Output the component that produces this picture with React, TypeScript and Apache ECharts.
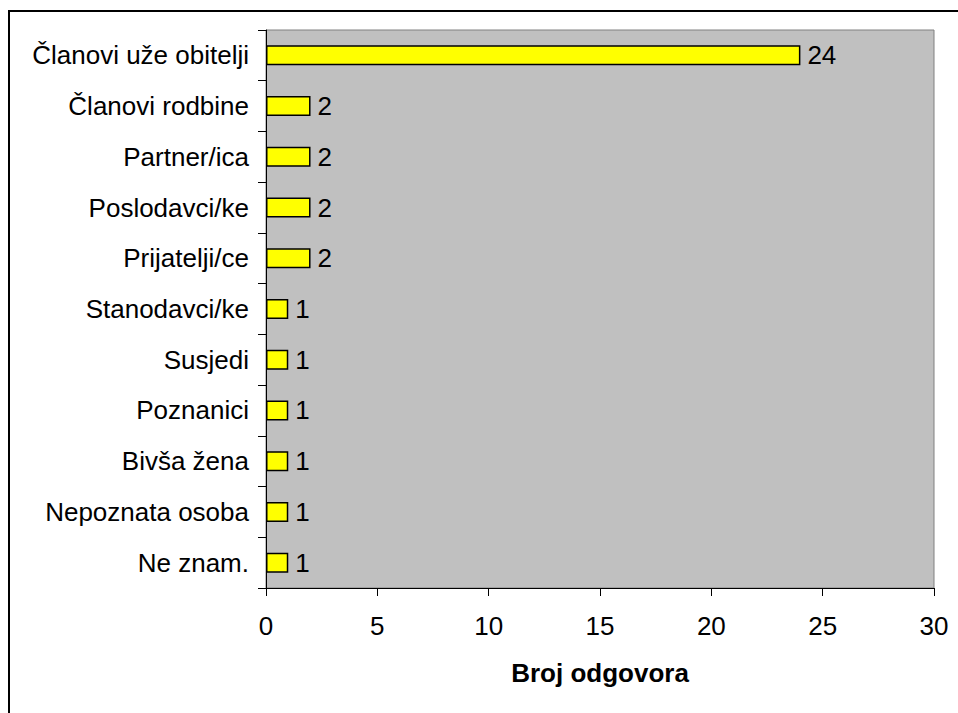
import React, { useEffect, useRef } from "react";
import * as echarts from "echarts";

const categories = [
  "Članovi uže obitelji",
  "Članovi rodbine",
  "Partner/ica",
  "Poslodavci/ke",
  "Prijatelji/ce",
  "Stanodavci/ke",
  "Susjedi",
  "Poznanici",
  "Bivša žena",
  "Nepoznata osoba",
  "Ne znam.",
];
const values = [24, 2, 2, 2, 2, 1, 1, 1, 1, 1, 1];
const axisTitle = "Broj odgovora";

const FONT = "'Liberation Sans', Arial, sans-serif";

export default function App() {
  const ref = useRef<HTMLDivElement>(null);
  useEffect(() => {
    if (!ref.current) return;
    const chart = echarts.init(ref.current, undefined, { renderer: "svg" });
    chart.setOption({
      animation: false,
      backgroundColor: "#ffffff",
      textStyle: { fontFamily: FONT },
      graphic: [
        {
          type: "rect",
          shape: { x: 9, y: 11, width: 1000, height: 1000 },
          style: { fill: "none", stroke: "#000", lineWidth: 2 },
          silent: true,
        },
      ],
      grid: {
        left: 266,
        top: 30,
        right: 24,
        bottom: 125,
        show: true,
        backgroundColor: "#C0C0C0",
        borderColor: "#808080",
        borderWidth: 1,
        containLabel: false,
      },
      xAxis: {
        type: "value",
        min: 0,
        max: 30,
        interval: 5,
        name: axisTitle,
        nameLocation: "middle",
        nameGap: 72,
        nameTextStyle: { fontSize: 26, fontWeight: "bold", color: "#000", fontFamily: FONT },
        axisLine: { show: true, lineStyle: { color: "#000", width: 1 } },
        axisTick: { show: true, length: 8, lineStyle: { color: "#000" } },
        axisLabel: { fontSize: 26, color: "#000", margin: 25, fontFamily: FONT },
        splitLine: { show: false },
      },
      yAxis: {
        type: "category",
        data: categories,
        inverse: true,
        axisLine: { show: true, lineStyle: { color: "#000", width: 1 } },
        axisTick: { show: true, length: 8, lineStyle: { color: "#000" } },
        axisLabel: { fontSize: 26, color: "#000", margin: 17, fontFamily: FONT },
        splitLine: { show: false },
      },
      series: [
        {
          type: "bar",
          data: values,
          barWidth: 20,
          itemStyle: { color: "#FFFF00", borderColor: "#000", borderWidth: 1.5 },
          label: {
            show: true,
            position: "right",
            distance: 7,
            fontSize: 26,
            color: "#000",
            fontFamily: FONT,
          },
        },
      ],
    });
    return () => chart.dispose();
  }, []);
  return (
    <div
      ref={ref}
      style={{ position: "fixed", left: 0, top: 0, width: 958, height: 713 }}
    />
  );
}
